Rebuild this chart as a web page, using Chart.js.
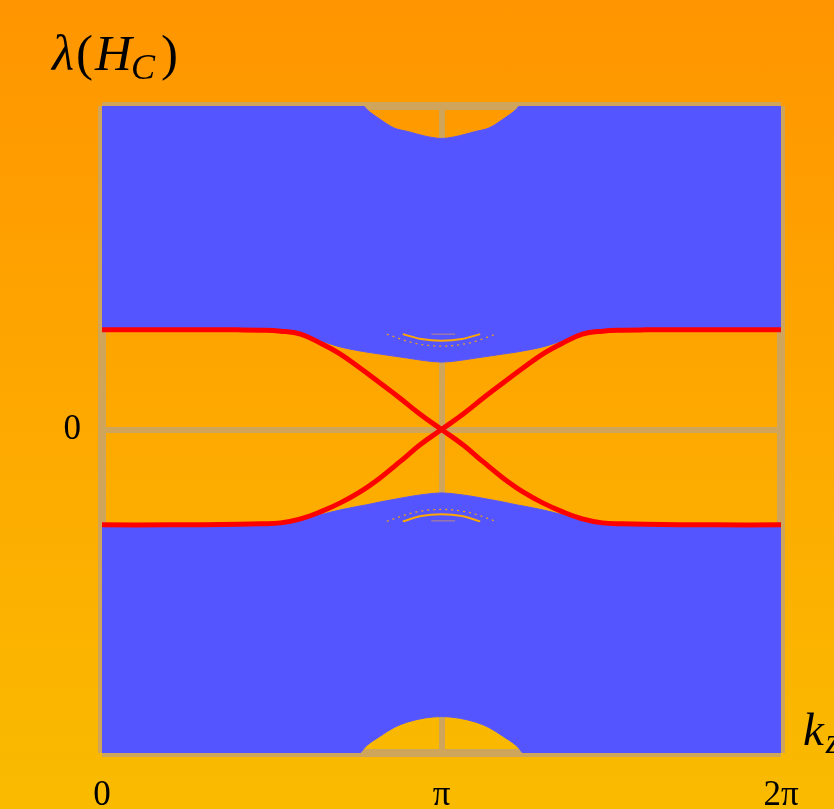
<!DOCTYPE html>
<html>
<head>
<meta charset="utf-8">
<script src="https://cdn.jsdelivr.net/npm/chart.js@4.4.0/dist/chart.umd.min.js"></script>
<style>
  html, body { margin: 0; padding: 0; }
  body {
    width: 834px; height: 809px; overflow: hidden;
    background: linear-gradient(to bottom, #ff9500 0%, #fea800 50%, #f9bb00 100%);
  }
</style>
</head>
<body>
<canvas id="spectrumChart" width="834" height="809"></canvas>
<script>
// k_z sample points for the edge states, in units of pi
const kEdge = [0, 0.2, 0.4, 0.468, 0.526, 0.585, 0.643, 0.702, 0.760, 0.819, 0.877, 0.936, 1.0,
               1.064, 1.123, 1.181, 1.240, 1.298, 1.357, 1.415, 1.474, 1.532, 1.6, 1.8, 2.0];

// edge states (red), crossing at k_z = pi
const edgeA = [1.0, 1.0, 0.998, 0.995, 0.985, 0.955, 0.865, 0.755, 0.615, 0.465, 0.315, 0.155, 0,
               -0.155, -0.325, -0.485, -0.625, -0.735, -0.825, -0.895, -0.935, -0.945, -0.95, -0.955, -0.955];
const edgeB = [-0.955, -0.955, -0.95, -0.945, -0.935, -0.895, -0.825, -0.735, -0.625, -0.485, -0.325, -0.155, 0,
               0.155, 0.315, 0.465, 0.615, 0.755, 0.865, 0.955, 0.985, 0.995, 0.998, 1.0, 1.0];

// k_z sample points for the bulk bands, in units of pi
const kBand = [0, 0.25, 0.45, 0.52, 0.58, 0.64, 0.70, 0.76, 0.77, 0.78, 0.82, 0.86, 0.90, 0.95, 1.00,
               1.05, 1.10, 1.14, 1.18, 1.22, 1.23, 1.24, 1.30, 1.36, 1.42, 1.48, 1.55, 1.75, 2.00];

// bulk bands (blue), lower and upper limit of each band
const bandUpLow = [1.0, 1.0, 0.998, 0.99, 0.962, 0.895, 0.828, 0.787, 0.781, 0.775, 0.755, 0.735, 0.715, 0.69, 0.675,
                   0.69, 0.715, 0.735, 0.755, 0.775, 0.781, 0.787, 0.828, 0.895, 0.962, 0.99, 0.998, 1.0, 1.0];
const bandUpHigh = [3.24, 3.24, 3.24, 3.24, 3.24, 3.24, 3.24, 3.24, 3.24, 3.205, 3.105, 3.02, 2.985, 2.94, 2.915,
                    2.94, 2.985, 3.02, 3.105, 3.205, 3.24, 3.24, 3.24, 3.24, 3.24, 3.24, 3.24, 3.24, 3.24];
const bandDownHigh = [-0.955, -0.955, -0.95, -0.945, -0.912, -0.857, -0.807, -0.766, -0.76, -0.754, -0.725, -0.70, -0.675, -0.65, -0.635,
                      -0.65, -0.675, -0.70, -0.725, -0.754, -0.76, -0.766, -0.807, -0.857, -0.912, -0.945, -0.95, -0.955, -0.955];
const bandDownLow = [-3.24, -3.24, -3.24, -3.24, -3.24, -3.24, -3.24, -3.24, -3.2, -3.165, -3.07, -2.985, -2.93, -2.89, -2.875,
                     -2.89, -2.93, -2.985, -3.07, -3.165, -3.2, -3.24, -3.24, -3.24, -3.24, -3.24, -3.24, -3.24, -3.24];

// small gaps inside the bands near k_z = pi
const gapK = [0.886, 0.94, 1.0, 1.06, 1.114];
const gapKWide = [0.839, 0.92, 1.0, 1.08, 1.161];
const gapKFlat = [0.97, 1.04];
const gapUpSolid = [0.955, 0.906, 0.888, 0.906, 0.955];
const gapUpDotted = [0.955, 0.865, 0.835, 0.865, 0.955];
const gapUpFlat = [0.955, 0.955];
const gapDownSolid = [-0.92, -0.867, -0.85, -0.867, -0.92];
const gapDownDotted = [-0.92, -0.83, -0.80, -0.83, -0.92];
const gapDownFlat = [-0.915, -0.915];

// axes
const Y_MAX = 3.24;
const xTickValues = [0, Math.PI, 2 * Math.PI];
const xTickLabels = ['0', 'π', '2π'];
const yTickValues = [-Y_MAX, 0, Y_MAX];
const yTickLabels = ['', '0', ''];

const BLUE = '#5555ff';
const RED = '#ff0000';
const GRID = '#cfa55c';
const SERIF = '"Liberation Serif", "DejaVu Serif", serif';

const toPoints = (ks, ys) => ks.map((f, i) => ({ x: f * Math.PI, y: ys[i] }));

const lineBase = { pointRadius: 0, cubicInterpolationMode: 'monotone', fill: false };
const smoothBase = { pointRadius: 0, tension: 0.4, fill: false, borderJoinStyle: 'round' };

// axis labels with subscripts
const mathLabels = {
    id: 'mathLabels',
    afterDraw(chart) {
        const c = chart.ctx;
        const drawRun = (parts, x, y) => {
            parts.forEach(p => {
                c.font = p.font;
                c.fillText(p.t, x, y + (p.dy || 0));
                x += c.measureText(p.t).width + (p.gap || 0);
            });
        };
        const it = `italic 51px ${SERIF}`;
        const up = `51px ${SERIF}`;
        const sub = `italic 36px ${SERIF}`;
        c.save();
        c.fillStyle = '#000';
        c.textBaseline = 'alphabetic';
        drawRun([
            { t: 'λ', font: it, gap: 2 },
            { t: '(', font: up, gap: 2 },
            { t: 'H', font: it, gap: -1 },
            { t: 'C', font: sub, dy: 9, gap: 6 },
            { t: ')', font: up }
        ], 52, 70);
        drawRun([
            { t: 'k', font: `italic 47px ${SERIF}`, gap: 2 },
            { t: 'z', font: sub, dy: 8 }
        ], 803, 745);
        c.restore();
    }
};

const chartElem = document.getElementById('spectrumChart');
if (chartElem) {
    new Chart(chartElem.getContext('2d'), {
        type: 'line',
        data: {
            datasets: [
                { ...smoothBase, data: toPoints(kEdge, edgeA), borderColor: RED, borderWidth: 5, order: 0 },
                { ...smoothBase, data: toPoints(kEdge, edgeB), borderColor: RED, borderWidth: 5, order: 0 },
                { ...lineBase, data: toPoints(gapK, gapUpSolid), borderColor: '#ffa800', borderWidth: 2, order: 1 },
                { ...lineBase, data: toPoints(gapKWide, gapUpDotted), borderColor: 'rgba(255,168,0,0.85)', borderWidth: 1.3, borderDash: [2, 4], order: 1 },
                { ...lineBase, data: toPoints(gapKFlat, gapUpFlat), borderColor: 'rgba(214,150,90,0.8)', borderWidth: 1, order: 1 },
                { ...lineBase, data: toPoints(gapK, gapDownSolid), borderColor: '#ffa800', borderWidth: 2, order: 1 },
                { ...lineBase, data: toPoints(gapKWide, gapDownDotted), borderColor: 'rgba(255,168,0,0.85)', borderWidth: 1.3, borderDash: [2, 4], order: 1 },
                { ...lineBase, data: toPoints(gapKFlat, gapDownFlat), borderColor: 'rgba(214,150,90,0.8)', borderWidth: 1, order: 1 },
                { ...lineBase, data: toPoints(kBand, bandUpLow), borderColor: BLUE, borderWidth: 1, order: 2 },
                { ...lineBase, data: toPoints(kBand, bandUpHigh), borderColor: BLUE, borderWidth: 1, backgroundColor: BLUE, fill: '-1', order: 2 },
                { ...lineBase, data: toPoints(kBand, bandDownHigh), borderColor: BLUE, borderWidth: 1, order: 2 },
                { ...lineBase, data: toPoints(kBand, bandDownLow), borderColor: BLUE, borderWidth: 1, backgroundColor: BLUE, fill: '-1', order: 2 }
            ]
        },
        options: {
            responsive: false,
            animation: false,
            devicePixelRatio: 1,
            layout: { padding: { top: 106, right: 53, left: 0, bottom: 0 } },
            plugins: {
                legend: { display: false },
                tooltip: { enabled: false }
            },
            scales: {
                x: {
                    type: 'linear',
                    min: 0,
                    max: 2 * Math.PI,
                    afterBuildTicks: s => { s.ticks = xTickValues.map(v => ({ value: v })); },
                    afterFit: s => { s.height = 56; },
                    grid: { color: GRID, lineWidth: ctx => ctx.index === 1 ? 6 : 8, drawTicks: false },
                    border: { display: false },
                    ticks: {
                        autoSkip: false,
                        maxRotation: 0,
                        padding: 22,
                        color: '#000',
                        font: { family: SERIF, size: 35 },
                        callback: (v, i) => xTickLabels[i]
                    }
                },
                y: {
                    type: 'linear',
                    min: -Y_MAX,
                    max: Y_MAX,
                    afterBuildTicks: s => { s.ticks = yTickValues.map(v => ({ value: v })); },
                    afterFit: s => { s.width = 102; },
                    grid: { color: GRID, lineWidth: ctx => ctx.index === 1 ? 6 : 8, drawTicks: false },
                    border: { display: false },
                    ticks: {
                        padding: 21,
                        color: '#000',
                        font: { family: SERIF, size: 35 },
                        callback: (v, i) => yTickLabels[i]
                    }
                }
            }
        },
        plugins: [mathLabels]
    });
}
</script>
</body>
</html>
